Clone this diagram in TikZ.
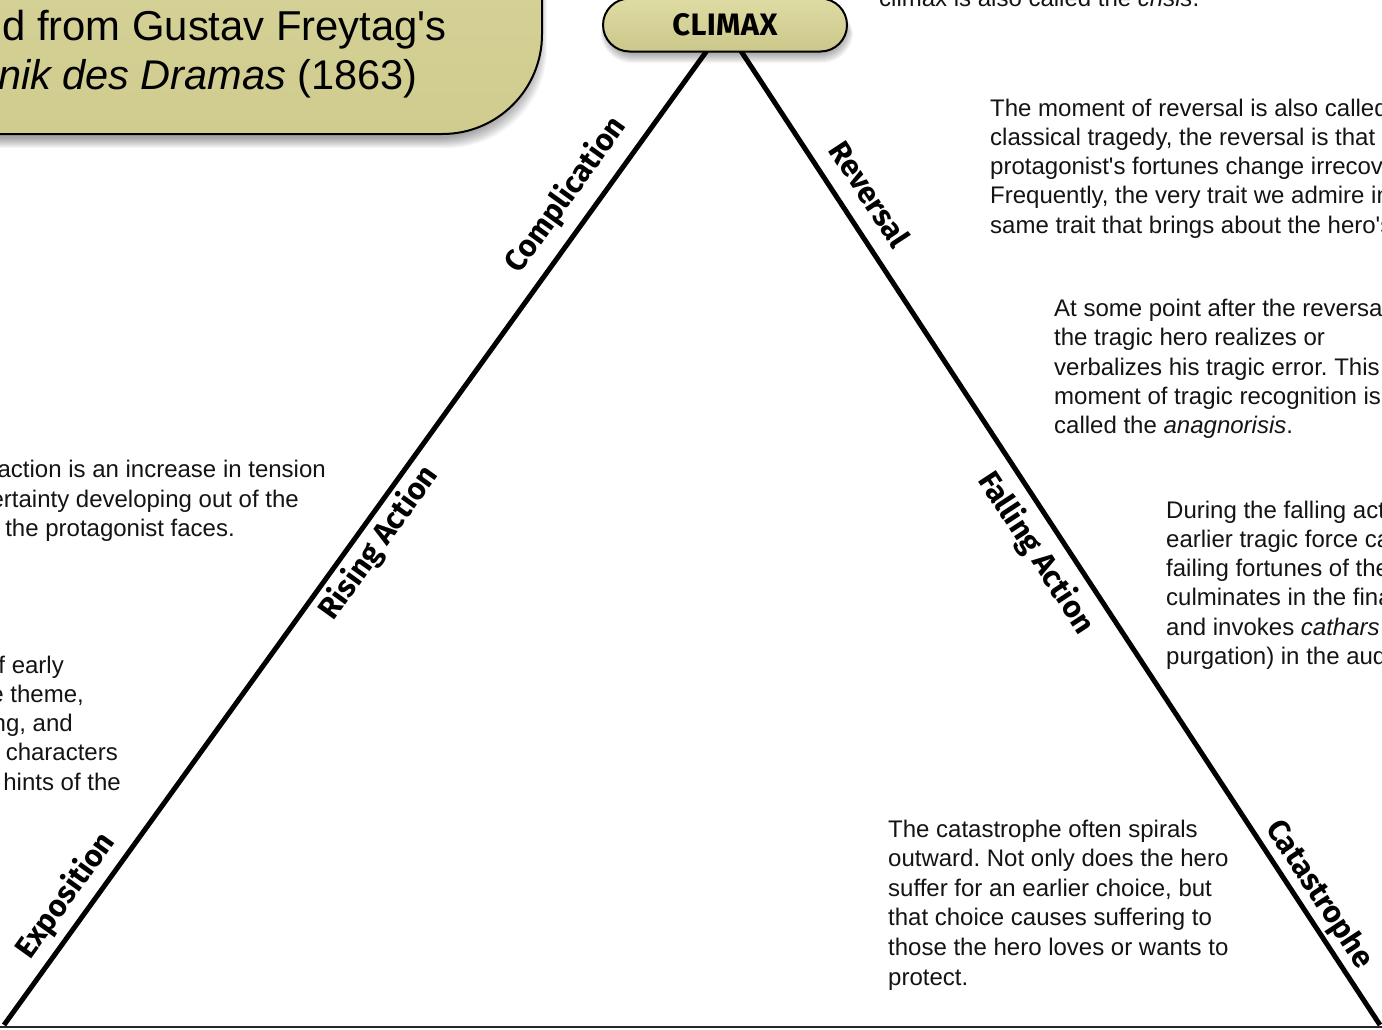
\documentclass[tikz,border=0pt]{standalone}
\usepackage{fontspec}
\setmainfont{Liberation Sans}
\newfontfamily\labfont{Fira Sans}
\usetikzlibrary{shapes.misc}
\definecolor{khakiT}{HTML}{DEDBA4}
\definecolor{khakiB}{HTML}{CCC88B}
\definecolor{boxT}{HTML}{D9D69D}
\definecolor{boxB}{HTML}{D0CC8F}
\newcommand\sq{\textquotesingle}
\begin{document}
\frenchspacing
\begin{tikzpicture}[x=1bp,y=-1bp,
  body/.style={font=\fontsize{24bp}{29bp}\selectfont, inner sep=0pt, anchor=base west, text=black!92},
  bodyR/.style={body, anchor=base east},
  lab/.style={font=\labfont\bfseries\fontsize{30.5bp}{32bp}\selectfont, inner sep=0pt},
  side/.style={line width=5bp},
  shadowstep/.style={fill=black, opacity=0.035},
]
\useasboundingbox (0,0) rectangle (1382,1029);
\fill[white] (0,0) rectangle (1382,1029);
\clip (0,0) rectangle (1382,1029);

% ---- triangle ----
\coordinate (tl) at (711,45);
\coordinate (bl) at (4,1025);
\coordinate (tr) at (737,45);
\coordinate (br) at (1380,1025);
\coordinate (b0) at (0,1027);
\coordinate (b1) at (1382,1027);
\draw[side] (tl) -- (bl);
\draw[side] (tr) -- (br);
\draw[line width=2.5bp, black!85] (b0) -- (b1);

% ---- title box ----
\foreach \k in {0,...,10}
  \fill[shadowstep, rounded corners=100] (-200,-150) rectangle (537+\k,138+\k);
\draw[line width=2bp, top color=boxT, bottom color=boxB, rounded corners=100]
  (-200,-150) rectangle (542,134);
\node[font=\fontsize{41.8bp}{49bp}\selectfont, inner sep=0pt, anchor=base west] (t1) at (2,40) {d from Gustav Freytag\sq s};
\node[font=\fontsize{41.5bp}{49bp}\selectfont, inner sep=0pt, anchor=base east] (t2) at (418,89) {\textit{nik des Dramas} (1863)};

% ---- climax pill ----
\foreach \k in {0,...,9}
  \fill[shadowstep, rounded corners=27+\k*0.5] (606-\k*0.6,6) rectangle (846+\k*0.8,54+\k);
\node[rounded rectangle, draw, line width=2bp, top color=khakiT, bottom color=khakiB,
      minimum width=244bp, minimum height=53bp, inner sep=0pt,
      font=\labfont\bfseries\fontsize{31bp}{32bp}\selectfont\addfontfeature{LetterSpace=1}] (climax) at (725,25) {CLIMAX};

% ---- side labels ----
\node[lab, rotate=54.2] (lexp) at (66,896) {Exposition};
\node[lab, rotate=54.2] (lris) at (379,543) {Rising Action};
\node[lab, rotate=54.2] (lcom) at (566,195) {Complication};
\node[lab, rotate=-56.7] (lrev) at (870,194) {Reversal};
\node[lab, rotate=-56.7] (lfal) at (1036,553) {Falling Action};
\node[lab, rotate=-56.7] (lcat) at (1319,895) {Catastrophe};

% ---- top text ----
\node[body] (c1) at (879,6) {climax is also called the \textit{crisis}.};

% ---- reversal text ----
\node[body] (r1) at (990,116) {The moment of reversal is also called};
\node[body] (r2) at (990,145.3) {classical tragedy, the reversal is that};
\node[body] (r3) at (990,174.6) {protagonist\sq s fortunes change irrecov};
\node[body] (r4) at (990,203.9) {Frequently, the very trait we admire in};
\node[body] (r5) at (990,233.2) {same trait that brings about the hero\sq s};

% ---- anagnorisis text ----
\node[body] (a1) at (1054,316.5) {At some point after the reversa};
\node[body] (a2) at (1054,345.8) {the tragic hero realizes or};
\node[body] (a3) at (1054,375.1) {verbalizes his tragic error. This};
\node[body] (a4) at (1054,404.4) {moment of tragic recognition is};
\node[body] (a5) at (1054,433.7) {called the \textit{anagnorisis}.};

% ---- falling action text ----
\node[body] (f1) at (1166,518) {During the falling act};
\node[body] (f2) at (1166,547.3) {earlier tragic force ca};
\node[body] (f3) at (1166,576.6) {failing fortunes of the};
\node[body] (f4) at (1166,605.9) {culminates in the fina};
\node[body] (f5) at (1166,635.2) {and invokes \textit{cathars}};
\node[body] (f6) at (1166,664.5) {purgation) in the aud};

% ---- catastrophe text ----
\node[body] (k1) at (888,837) {The catastrophe often spirals};
\node[body] (k2) at (888,866.6) {outward. Not only does the hero};
\node[body] (k3) at (888,896.2) {suffer for an earlier choice, but};
\node[body] (k4) at (888,925.8) {that choice causes suffering to};
\node[body] (k5) at (888,955.4) {those the hero loves or wants to};
\node[body] (k6) at (888,985) {protect.};

% ---- rising action text ----
\node[bodyR] (s1) at (326,477.5) {action is an increase in tension};
\node[bodyR] (s2) at (299,507) {ertainty developing out of the};
\node[bodyR] (s3) at (235,536.5) {the protagonist faces.};

% ---- exposition text ----
\node[bodyR] (e1) at (64,673) {f early};
\node[bodyR] (e2) at (84,702.3) {e theme,};
\node[bodyR] (e3) at (73,731.6) {ng, and};
\node[bodyR] (e4) at (118,760.9) {characters};
\node[bodyR] (e5) at (121,790.2) {hints of the};
\end{tikzpicture}
\end{document}
